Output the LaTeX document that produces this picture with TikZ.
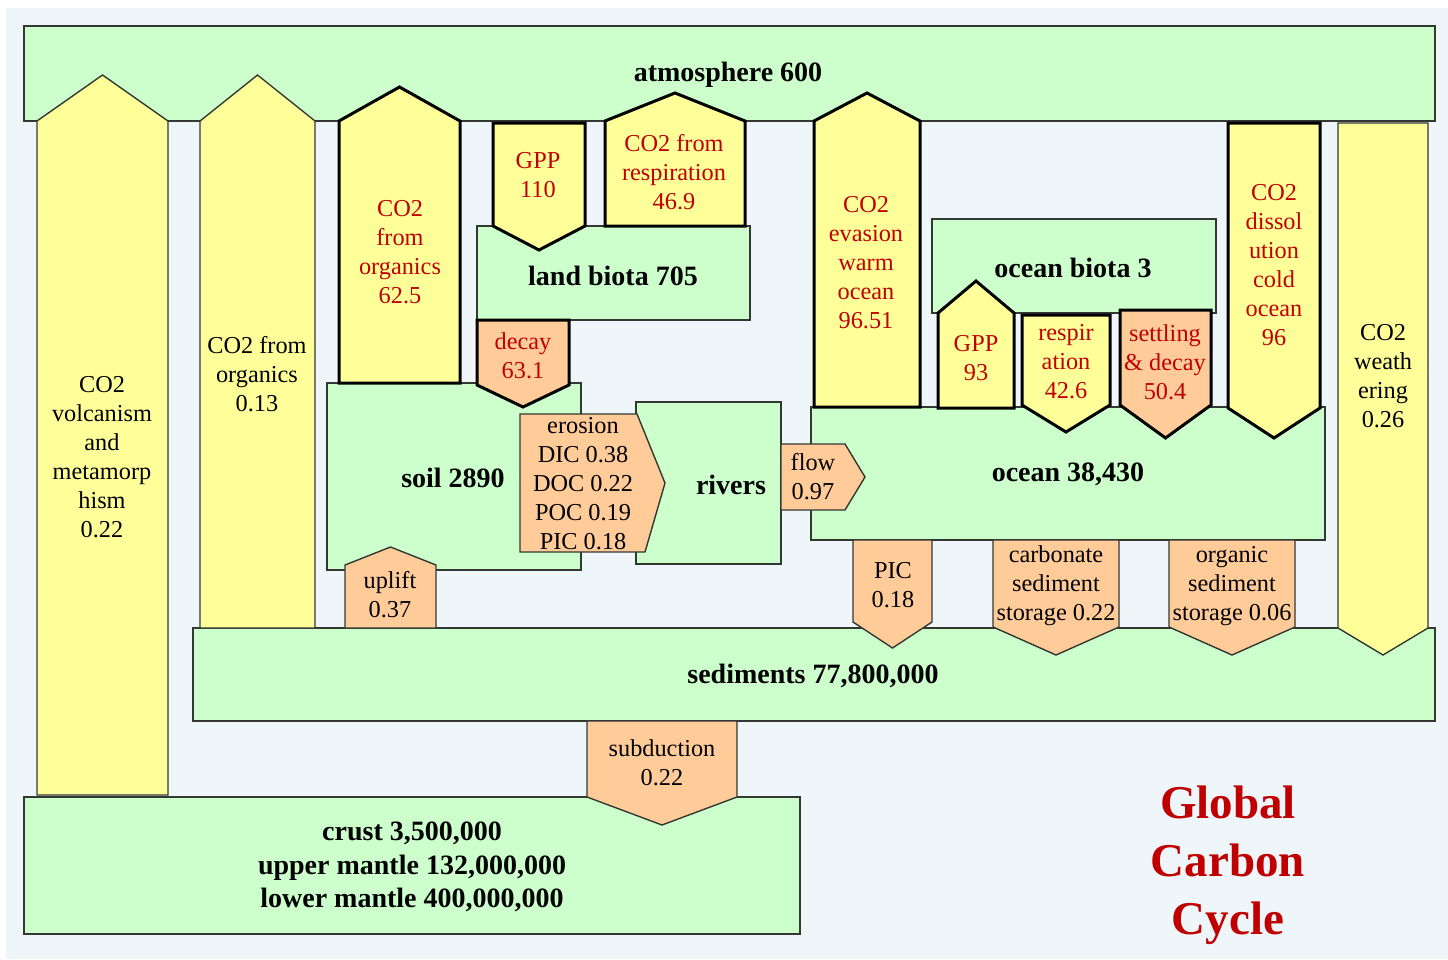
\documentclass[tikz,border=0pt]{standalone}
\usepackage{fontspec}
\setmainfont{Liberation Serif}
\definecolor{bgblue}{HTML}{EEF6FA}
\definecolor{poolgreen}{HTML}{CCFFCC}
\definecolor{flowyellow}{HTML}{FFFF99}
\definecolor{flowsalmon}{HTML}{FFCC99}
\definecolor{edgegray}{HTML}{333833}
\definecolor{redtxt}{HTML}{C00000}
\newcommand{\flowUp}[6]{\draw[#1] (#2,#6) -- (#2,#5) -- ({(#2+#3)/2},#4) -- (#3,#5) -- (#3,#6) -- cycle;}
\newcommand{\flowDown}[6]{\draw[#1] (#2,#4) -- (#2,#5) -- ({(#2+#3)/2},#6) -- (#3,#5) -- (#3,#4) -- cycle;}
\tikzset{
  poolbox/.style={fill=poolgreen, draw=edgegray, line width=1.4pt},
  thinyel/.style={fill=flowyellow, draw=edgegray, line width=1.4pt, line join=miter},
  thickyel/.style={fill=flowyellow, draw=black, line width=3pt, line join=miter},
  thinsal/.style={fill=flowsalmon, draw=edgegray, line width=1.4pt, line join=miter},
  thicksal/.style={fill=flowsalmon, draw=black, line width=3pt, line join=miter},
  lbl/.style={align=center, inner sep=0pt, font=\fontsize{24.3}{29}\selectfont, text=black},
  lblred/.style={lbl, text=redtxt},
  pooltxt/.style={align=center, inner sep=0pt, font=\fontsize{28}{33.5}\selectfont\bfseries, text=black},
  titletxt/.style={align=center, inner sep=0pt, font=\fontsize{47}{58}\selectfont\bfseries, text=redtxt}
}
\begin{document}
\begin{tikzpicture}[x=1pt,y=-1pt]
\useasboundingbox (0,0) rectangle (1448,959);
\fill[white] (0,0) rectangle (1448,959);
\fill[bgblue] (6,8) rectangle (1448,959);

% reservoirs
\draw[poolbox] (24,26) rectangle (1435,121);
\draw[poolbox] (477,226) rectangle (750,320);
\draw[poolbox] (327,383) rectangle (581,570);
\draw[poolbox] (636,402) rectangle (781,564);
\draw[poolbox] (932,219) rectangle (1216,313);
\draw[poolbox] (811,407) rectangle (1325,540);
\draw[poolbox] (193,628) rectangle (1435,721);
\draw[poolbox] (24,797) rectangle (800,934);

% upward flows
\flowUp{thinyel}{37}{168}{75}{121}{795}
\flowUp{thinyel}{200}{315}{75}{121}{628}
\flowUp{thickyel}{339}{460}{87}{121}{383}
\flowUp{thickyel}{605}{745}{93}{121}{226}
\flowUp{thickyel}{814}{920}{93}{121}{407}
\flowUp{thickyel}{938}{1014}{281}{313}{408}
\flowUp{thinsal}{345}{436}{547}{565}{628}

% downward flows
\flowDown{thickyel}{493}{585}{123}{226}{250}
\flowDown{thicksal}{477}{569}{320}{385}{407}
\flowDown{thickyel}{1022}{1110}{315}{405}{432}
\flowDown{thicksal}{1120}{1211}{310}{405}{438}
\flowDown{thickyel}{1228}{1320}{123}{408}{438}
\flowDown{thinyel}{1338}{1428}{123}{628}{655}
\flowDown{thinsal}{853}{932}{540}{622}{648}
\flowDown{thinsal}{993}{1119}{540}{627}{655}
\flowDown{thinsal}{1169}{1295}{540}{627}{655}
\flowDown{thinsal}{587}{737}{721}{797}{825}

% sideways flows
\draw[thinsal] (520,414) -- (637,414) -- (665,483) -- (645,552) -- (520,552) -- cycle;
\draw[thinsal] (781,444) -- (845,444) -- (865,477) -- (845,510) -- (781,510) -- cycle;

% reservoir labels
\node[pooltxt] (atm) at (728,75) {atmosphere 600};
\node[pooltxt] (landbiota) at (613,276) {land biota 705};
\node[pooltxt] (soil) at (453,478) {soil 2890};
\node[pooltxt] (rivers) at (731,485) {rivers};
\node[pooltxt] (oceanbiota) at (1073,268) {ocean biota 3};
\node[pooltxt] (ocean) at (1068,474) {ocean 38,430};
\node[pooltxt] (sediments) at (813,676) {sediments 77,800,000};
\node[pooltxt] (crust) at (412,867) {crust 3,500,000\\upper mantle 132,000,000\\lower mantle 400,000,000};

% flow labels
\node[lbl] (volc) at (102,457) {CO2\\volcanism\\and\\metamorp\\hism\\0.22};
\node[lbl] (orgslow) at (257,374) {CO2 from\\organics\\0.13};
\node[lblred] (orgfast) at (400,252) {CO2\\from\\organics\\62.5};
\node[lblred] (gppland) at (538,175) {GPP\\110};
\node[lblred] (respland) at (674,172) {CO2 from\\respiration\\46.9};
\node[lblred] (decay) at (523,356) {decay\\63.1};
\node[lbl] (erosion) at (583,484) {erosion\\DIC 0.38\\DOC 0.22\\POC 0.19\\PIC 0.18};
\node[lbl] (flow) at (813,477) {flow\\0.97};
\node[lblred] (evasion) at (866,263) {CO2\\evasion\\warm\\ocean\\96.51};
\node[lblred] (gppocean) at (976,358) {GPP\\93};
\node[lblred] (respocean) at (1066,362) {respir\\ation\\42.6};
\node[lblred] (settling) at (1165,362) {settling\\\& decay\\50.4};
\node[lblred] (dissol) at (1274,265) {CO2\\dissol\\ution\\cold\\ocean\\96};
\node[lbl] (weath) at (1383,376) {CO2\\weath\\ering\\0.26};
\node[lbl] (uplift) at (390,595) {uplift\\0.37};
\node[lbl] (pic) at (893,585) {PIC\\0.18};
\node[lbl] (carb) at (1056,586) {carbonate\\sediment\\storage 0.22};
\node[lbl] (orgsed) at (1232,586) {organic\\sediment\\storage 0.06};
\node[lbl] (subd) at (662,763) {subduction\\0.22};

\node[titletxt] (title) at (1228,865) {Global\\Carbon\\Cycle};
\end{tikzpicture}
\end{document}
